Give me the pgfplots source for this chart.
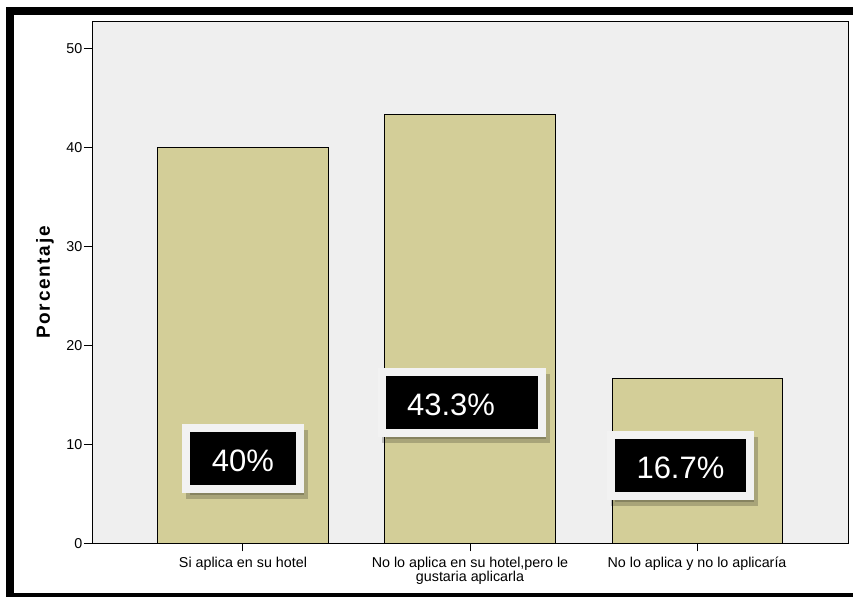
\documentclass[border=0pt]{standalone}
\usepackage{pgfplots}
\pgfplotsset{compat=1.18}
\usepackage{fontspec}
\setmainfont{Liberation Sans}
\newfontfamily\spacedfont[LetterSpace=9]{Liberation Sans}
\usetikzlibrary{shadows}
\definecolor{barfill}{RGB}{211,206,152}
\definecolor{plotbg}{RGB}{239,239,239}
\definecolor{boxedge}{RGB}{242,242,242}
\tikzset{lbl/.style={fill=black, draw=boxedge, line width=8bp, text=white,
    font=\fontsize{31bp}{31bp}\selectfont, inner xsep=25.5bp, inner ysep=17.5bp,
    text height=26bp, text depth=0bp,
    drop shadow={shadow xshift=4bp, shadow yshift=-6bp, fill=black, draw=black, line width=8bp, opacity=0.2}}}
\begin{document}
\begin{tikzpicture}[x=1bp,y=1bp]
\useasboundingbox (0,0) rectangle (853,597);
\begin{axis}[
  at={(92bp,53.7bp)}, anchor=south west,
  scale only axis, width=756bp, height=521.6bp,
  xmin=-0.665, xmax=2.665, ymin=0, ymax=52.7,
  enlargelimits=false,
  axis background/.style={fill=plotbg},
  ybar, bar width=0.749,
  xtick={0,1,2},
  xticklabels={Si aplica en su hotel,{No lo aplica en su hotel,pero le\\gustaria aplicarla},No lo aplica y no lo aplicaría},
  ytick={0,10,20,30,40,50},
  tick align=outside, major tick length=8bp,
  xtick pos=lower, ytick pos=left,
  tick style={black, line width=1bp},
  axis line style={black, line width=1bp},
  /pgf/number format/assume math mode=true,
  ticklabel style={font=\fontsize{14.3bp}{14.5bp}\selectfont},
  yticklabel style={inner xsep=1.5bp},
  xticklabel style={align=center, inner ysep=5.5bp},
  ylabel={\spacedfont\bfseries Porcentaje},
  ylabel style={at={(axis description cs:-0.0622,0.5)}, anchor=center, font=\fontsize{19bp}{21bp}\selectfont},
]
\addplot[fill=barfill, draw=black, line width=1bp] coordinates {(0,40) (1,43.33) (2,16.67)};
\node[lbl] at (axis cs:0,8.52) {40\%};
\node[lbl] at (axis cs:0.963,14.22) {\makebox[109bp][l]{43.3\%}};
\node[lbl] at (axis cs:1.927,7.91) {16.7\%};
\end{axis}
\draw[line width=8bp] (9.7,-0.5) rectangle (870,585.5);
\end{tikzpicture}
\end{document}
